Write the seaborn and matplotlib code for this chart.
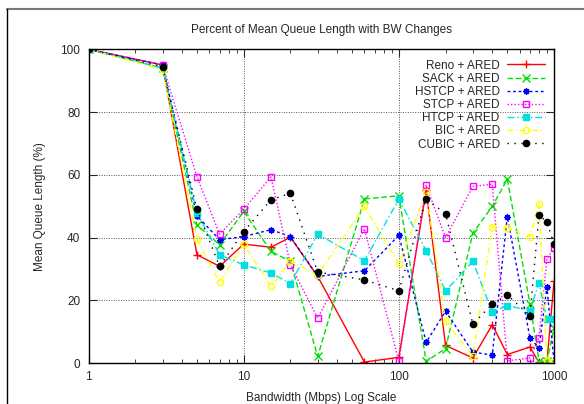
import numpy as np
import pandas as pd
import matplotlib
matplotlib.use("Agg")
import matplotlib.pyplot as plt
from matplotlib.lines import Line2D
from matplotlib.ticker import FixedLocator, FixedFormatter, LogLocator, NullFormatter
import seaborn as sns

# Bandwidth values (Mbps)
bandwidth = [1, 3, 5, 7, 10, 15, 20, 30, 60, 100, 150, 200, 300, 400, 500, 700, 800, 900, 1000]

# Percent of mean queue length, one list per protocol
reno = [100, 95, 34.5, 30.8, 37.9, 36.9, 40.1, 27.6, 0.3, 1.8, 55, 5.6, 1.6, 12.2, 2.7, 5.1, 0.2, 0.2, 26]
sack = [100, 94, 44, 37.7, 48.3, 35.6, 32.4, 2.1, 52.3, 53.3, 0.5, 4.6, 41.4, 49.9, 58.6, 18.9, 0.7, 0.5, 11.1]
hstcp = [100, 95, 46.9, 39.3, 40.3, 42.5, 40.3, 27.6, 29.4, 40.7, 6.6, 16.5, 3.5, 2.5, 46.7, 8.0, 4.8, 24.2, 0.4]
stcp = [100, 95, 59.3, 41.1, 49.0, 59.3, 31.3, 14.3, 42.8, 0.5, 56.6, 40.0, 56.3, 57.0, 0.7, 1.6, 8.0, 33.2, 36.6]
htcp = [100, 94, 47.8, 34.5, 31.3, 28.7, 25.3, 41.1, 32.6, 52.2, 35.8, 23.0, 32.4, 16.2, 18.3, 16.7, 25.5, 14.0, 14.0]
bic = [100, 93.5, 39.6, 25.7, 37.9, 24.4, 32.4, 28.1, 49.9, 31.5, 54.4, 13.3, 2.1, 43.5, 43.0, 40.3, 50.7, 0.7, 0.2]
cubic = [100, 94.5, 49.0, 30.8, 41.9, 52.0, 54.1, 29.0, 26.5, 23.0, 52.3, 47.6, 12.4, 18.8, 21.7, 15.1, 47.2, 44.9, 38.0]

labels = ["Reno + ARED", "SACK + ARED", "HSTCP + ARED", "STCP + ARED",
          "HTCP + ARED", "BIC + ARED", "CUBIC + ARED"]
series = [reno, sack, hstcp, stcp, htcp, bic, cubic]

# gnuplot-like styles
colors = ["#ff0000", "#00e000", "#0000ff", "#ff00ff", "#00e0e0", "#ffff00", "#000000"]
markers = ["+", "x", (8, 2, 0), "s", "s", "o", "o"]
filled = [True, True, True, False, True, False, True]
dashes = ["-", (0, (4, 2)), (0, (2, 2)), (0, (1, 1.5)), (0, (5, 2, 1, 2)), (0, (4, 2, 1, 2)), (0, (1, 4))]

sns.set_style("ticks")
plt.rcParams["font.family"] = ["Liberation Sans", "DejaVu Sans"]
plt.rcParams["font.size"] = 8.5

fig = plt.figure(figsize=(5.84, 4.04), dpi=100)
ax = fig.add_axes([88.5 / 584, 1 - 363 / 404, (554 - 88.5) / 584, (363 - 49.3) / 404])

for lab, vals, c, m, f, ls in zip(labels, series, colors, markers, filled, dashes):
    sns.lineplot(x=bandwidth, y=vals, ax=ax, color=c, marker=m, linestyle=ls,
                 linewidth=1.0, markersize=6 if m in ("+", "x") else 4.5,
                 markerfacecolor=c if f else "none", markeredgecolor=c,
                 markeredgewidth=1.0, label=lab)

ax.set_xscale("log")
ax.set_xlim(1, 1000)
ax.set_ylim(0, 100)
ax.xaxis.set_major_locator(FixedLocator([1, 10, 100, 1000]))
ax.xaxis.set_major_formatter(FixedFormatter(["1", "10", "100", "1000"]))
ax.xaxis.set_minor_locator(LogLocator(base=10, subs=np.arange(2, 10)))
ax.xaxis.set_minor_formatter(NullFormatter())
ax.set_yticks([0, 20, 40, 60, 80, 100])

ax.tick_params(which="both", direction="in", top=True, right=True, labelsize=8.5, pad=6)
ax.tick_params(which="major", length=6, width=0.8)
ax.tick_params(which="minor", length=3, width=0.6)
ax.grid(True, which="major", linestyle=(0, (1, 1.5)), color="#555555", linewidth=0.7)
for s in ax.spines.values():
    s.set_linewidth(1.0)
    s.set_color("black")

ax.set_title("Percent of Mean Queue Length with BW Changes", fontsize=8.5, pad=12)
ax.set_xlabel("Bandwidth (Mbps) Log Scale", fontsize=8.5, labelpad=6)
ax.set_ylabel("Mean Queue Length (%)", fontsize=8.5, labelpad=10)

leg = ax.legend(loc="upper right", bbox_to_anchor=(0.995, 0.99), frameon=False,
                markerfirst=False, handlelength=3.2, labelspacing=0.1,
                handletextpad=0.6, fontsize=8.5, borderaxespad=0.2)
for t in leg.get_texts():
    t.set_horizontalalignment("right")
leg._legend_box.align = "right"

# page frame lines seen in the screenshot
fig.add_artist(Line2D([6.5 / 584, 1], [1 - 8.5 / 404, 1 - 8.5 / 404], color="#777777", linewidth=1.5))
fig.add_artist(Line2D([6.5 / 584, 6.5 / 584], [0, 1 - 8.5 / 404], color="black", linewidth=1.0))

fig.savefig("out.png", dpi=100)
